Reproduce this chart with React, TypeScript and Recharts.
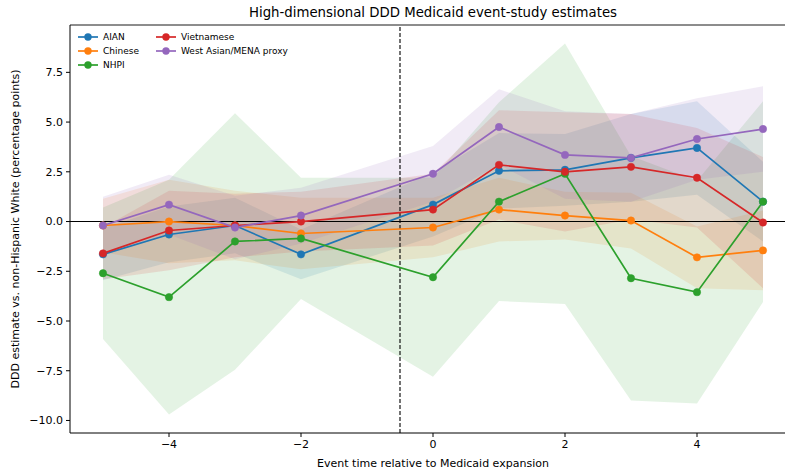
import React from "react";
import {
  ComposedChart,
  Area,
  Line,
  XAxis,
  YAxis,
  ReferenceLine,
} from "recharts";

// event times (t = -1 is the omitted reference period)
const eventTimes = [-5, -4, -3, -2, 0, 1, 2, 3, 4, 5];

// point estimates, percentage points
const aian = [-1.65, -0.65, -0.2, -1.65, 0.85, 2.55, 2.6, 3.2, 3.7, 1.0];
const chinese = [-0.2, 0.0, -0.2, -0.6, -0.3, 0.6, 0.3, 0.05, -1.8, -1.45];
const nhpi = [-2.6, -3.8, -1.0, -0.85, -2.8, 1.0, 2.4, -2.85, -3.55, 1.0];
const vietnamese = [-1.6, -0.45, -0.2, 0.0, 0.6, 2.85, 2.5, 2.75, 2.2, -0.05];
const mena = [-0.2, 0.85, -0.3, 0.3, 2.4, 4.75, 3.35, 3.2, 4.15, 4.65];

// 95% CI half-widths
const aianCi = [1.3, 1.4, 1.4, 1.25, 1.6, 1.9, 1.8, 2.2, 2.35, 2.0];
const chineseCi = [1.35, 2.1, 1.75, 1.8, 1.5, 1.6, 1.2, 1.4, 1.55, 2.0];
const nhpiCi = [3.3, 5.9, 6.45, 3.05, 5.0, 5.0, 6.55, 6.15, 5.6, 5.05];
const vietnameseCi = [1.3, 2.0, 1.6, 1.5, 1.8, 2.75, 3.0, 2.65, 2.5, 3.3];
const menaCi = [1.45, 1.5, 1.6, 1.4, 1.4, 1.9, 2.2, 2.2, 2.05, 2.15];

const xTicks = [-4, -2, 0, 2, 4];
const yTicks = [-10, -7.5, -5, -2.5, 0, 2.5, 5, 7.5];

const series = [
  { key: "aian", name: "AIAN", color: "#1f77b4", est: aian, ci: aianCi },
  { key: "chinese", name: "Chinese", color: "#ff7f0e", est: chinese, ci: chineseCi },
  { key: "nhpi", name: "NHPI", color: "#2ca02c", est: nhpi, ci: nhpiCi },
  { key: "vietnamese", name: "Vietnamese", color: "#d62728", est: vietnamese, ci: vietnameseCi },
  { key: "mena", name: "West Asian/MENA proxy", color: "#9467bd", est: mena, ci: menaCi },
];

const data = eventTimes.map((t, i) => {
  const row: any = { t };
  series.forEach((s) => {
    row[s.key] = s.est[i];
    row[s.key + "Band"] = [s.est[i] - s.ci[i], s.est[i] + s.ci[i]];
  });
  return row;
});

const FONT = "'DejaVu Sans', sans-serif";
const fmt = (v: number, d: number) => {
  const s = Math.abs(v).toFixed(d);
  return v < 0 ? "\u2212" + s : s;
};

const Y_MIN = -10.63;
const Y_MAX = 9.88;

function LegendItem({ name, color, x, y }: { name: string; color: string; x: number; y: number }) {
  return (
    <div style={{ position: "absolute", left: x, top: y - 7, height: 14, display: "flex", alignItems: "center" }}>
      <svg width={20} height={14} style={{ marginRight: 5 }}>
        <line x1={0} y1={7} x2={20} y2={7} stroke={color} strokeWidth={1.7} />
        <circle cx={10} cy={7} r={3.7} fill={color} />
      </svg>
      <span style={{ fontFamily: FONT, fontSize: 9, color: "#000", whiteSpace: "nowrap" }}>{name}</span>
    </div>
  );
}

export default function App() {
  const legendPos = [
    { x: 78, y: 37 },
    { x: 78, y: 51 },
    { x: 78, y: 65 },
    { x: 156, y: 37 },
    { x: 156, y: 51 },
  ];

  return (
    <div
      style={{
        position: "absolute",
        left: 0,
        top: 0,
        width: 785,
        height: 471,
        overflow: "hidden",
        background: "#fff",
      }}
    >
      <div
        style={{
          position: "absolute",
          left: 70,
          width: 726,
          top: 5,
          textAlign: "center",
          fontFamily: FONT,
          fontSize: 13.3,
          color: "#000",
        }}
      >
        High-dimensional DDD Medicaid event-study estimates
      </div>

      <ComposedChart
        width={797}
        height={471}
        data={data}
        margin={{ top: 25, right: 1, bottom: 0, left: 0 }}
      >
        <XAxis
          dataKey="t"
          type="number"
          domain={[-5.5, 5.5]}
          ticks={xTicks}
          tickFormatter={(v: number) => fmt(v, 0)}
          height={38}
          tickSize={4}
          tickMargin={3}
          stroke="#000"
          tick={{ fill: "#000", fontSize: 11, fontFamily: FONT }}
          allowDataOverflow
          label={{
            value: "Event time relative to Medicaid expansion",
            position: "insideBottom",
            offset: 4,
            style: { fill: "#000", fontSize: 11, fontFamily: FONT },
          }}
        />
        <YAxis
          type="number"
          domain={[Y_MIN, Y_MAX]}
          ticks={yTicks}
          tickFormatter={(v: number) => fmt(v, 1)}
          width={70}
          tickSize={4}
          tickMargin={3}
          stroke="#000"
          tick={{ fill: "#000", fontSize: 11, fontFamily: FONT }}
          allowDataOverflow
          label={{
            value: "DDD estimate vs. non-Hispanic White (percentage points)",
            angle: -90,
            position: "insideLeft",
            offset: 15,
            style: { fill: "#000", fontSize: 11, fontFamily: FONT, textAnchor: "middle" },
          }}
        />

        {series.map((s) => (
          <Area
            key={s.key + "Band"}
            dataKey={s.key + "Band"}
            type="linear"
            stroke="none"
            fill={s.color}
            fillOpacity={0.13}
            isAnimationActive={false}
            activeDot={false}
          />
        ))}

        <ReferenceLine y={0} stroke="#000" strokeWidth={1.1} />
        <ReferenceLine x={-0.5} stroke="#000" strokeWidth={1.1} strokeDasharray="4 2" />
        <ReferenceLine y={Y_MAX} stroke="#000" strokeWidth={0.9} />

        {series.map((s) => (
          <Line
            key={s.key}
            dataKey={s.key}
            type="linear"
            stroke={s.color}
            strokeWidth={1.7}
            dot={{ r: 3.7, fill: s.color, stroke: s.color, strokeWidth: 0.5 }}
            activeDot={false}
            isAnimationActive={false}
          />
        ))}
      </ComposedChart>

      {series.map((s, i) => (
        <LegendItem key={s.key} name={s.name} color={s.color} x={legendPos[i].x} y={legendPos[i].y} />
      ))}
    </div>
  );
}
